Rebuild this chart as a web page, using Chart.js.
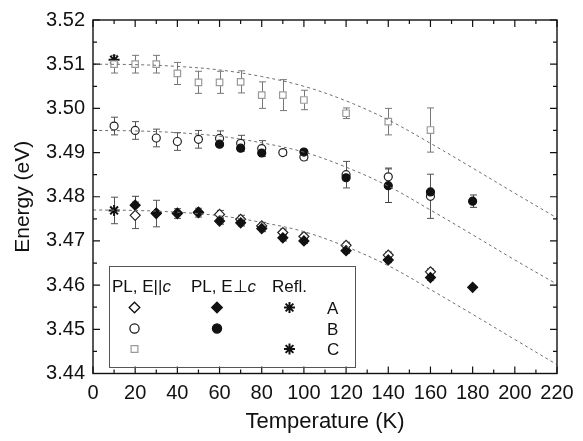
<!DOCTYPE html>
<html>
<head>
<meta charset="utf-8">
<script src="https://cdn.jsdelivr.net/npm/chart.js@4.4.1/dist/chart.umd.min.js"></script>
<style>
  html, body { margin: 0; padding: 0; background: #fff; }
  #wrap { width: 583px; height: 441px; }
</style>
</head>
<body>
<div id="wrap"><canvas id="graficoEnergia" width="583" height="441"></canvas></div>
<script>
// Dados: energia dos excitons A, B, C x temperatura
const tempAParalelo = [20, 30, 40, 50, 60, 70, 80, 90, 100, 120, 140, 160];
const energiaAParalelo = [3.4758, 3.4762, 3.4762, 3.4764, 3.4760, 3.4749, 3.4734, 3.4719, 3.4710, 3.4690, 3.4668, 3.4630];
const erroAParalelo = [0.003, 0.003, 0.0011, 0.001, 0.0009, 0.0009, 0.0008, 0.0008, 0.0008, 0.0007, 0.0007, 0.0007];

const tempAPerp = [20, 30, 40, 50, 60, 70, 80, 90, 100, 120, 140, 160, 180];
const energiaAPerp = [3.4781, 3.4763, 3.4763, 3.4765, 3.4745, 3.4741, 3.4728, 3.4707, 3.4700, 3.4678, 3.4657, 3.4617, 3.4595];
const erroAPerp = [0.002, 0, 0, 0, 0.0007, 0.0007, 0.0007, 0.0007, 0.0006, 0.0006, 0.0006, 0.0006, 0];

const tempBParalelo = [10, 20, 30, 40, 50, 60, 70, 80, 90, 100, 120, 140, 160];
const energiaBParalelo = [3.4960, 3.4950, 3.4933, 3.4925, 3.4930, 3.4932, 3.4921, 3.4909, 3.4900, 3.4890, 3.4850, 3.4845, 3.4801];
const erroBParalelo = [0.002, 0.002, 0.002, 0.002, 0.002, 0.0017, 0.0018, 0.0018, 0.0006, 0.0007, 0.003, 0.002, 0.005];

const tempBPerp = [60, 70, 80, 100, 120, 140, 160, 180];
const energiaBPerp = [3.4919, 3.4910, 3.4899, 3.4901, 3.4843, 3.4825, 3.4811, 3.4790];
const erroBPerp = [0, 0, 0, 0, 0, 0.0038, 0, 0.0014];

const tempCParalelo = [10, 20, 30, 40, 50, 60, 70, 80, 90, 100, 120, 140, 160];
const energiaCParalelo = [3.5100, 3.5100, 3.5100, 3.5079, 3.5059, 3.5059, 3.5060, 3.5030, 3.5030, 3.5019, 3.4989, 3.4970, 3.4951];
const erroCParalelo = [0.002, 0.002, 0.002, 0.0025, 0.0025, 0.0025, 0.0025, 0.003, 0.0035, 0.0022, 0.0012, 0.003, 0.005];

// reflectância (10 K): excitons A e C
const tempRefl = [10, 10];
const energiaRefl = [3.4769, 3.5110];
const erroRefl = [0.003, 0];

// curvas de ajuste (tracejadas)
const tempAjuste = [0, 20, 40, 60, 80, 100, 120, 140, 160, 180, 200, 220];
const ajusteC = [3.5100, 3.5099, 3.5095, 3.5087, 3.5072, 3.5050, 3.5017, 3.4974, 3.4921, 3.4865, 3.4808, 3.4752];
const ajusteB = [3.4950, 3.4949, 3.4945, 3.4937, 3.4922, 3.4901, 3.4867, 3.4824, 3.4770, 3.4714, 3.4657, 3.4602];
const ajusteA = [3.4770, 3.4769, 3.4765, 3.4757, 3.4742, 3.4721, 3.4687, 3.4644, 3.4590, 3.4534, 3.4477, 3.4420];

const FONTE = "'Liberation Sans', Arial, sans-serif";

function pares(xs, ys) {
    return xs.map((t, i) => ({ x: t, y: ys[i] }));
}

function curva(ys) {
    return {
        type: 'line', data: pares(tempAjuste, ys), borderColor: '#6f6f6f', borderWidth: 1,
        borderDash: [3, 3], pointRadius: 0, tension: 0.35, fill: false
    };
}

function serie(xs, ys, erros, estilo) {
    return Object.assign({ type: 'scatter', data: pares(xs, ys), erros: erros, pointBorderWidth: 1.2 }, estilo);
}

// 1. BARRAS DE ERRO (desenhadas antes dos marcadores)
const barrasErro = {
    id: 'barrasErro',
    beforeDatasetsDraw(chart) {
        const { ctx, scales: { x, y } } = chart;
        chart.data.datasets.forEach(ds => {
            if (!ds.erros) return;
            ctx.save();
            ctx.strokeStyle = ds.corErro || '#555';
            ctx.lineWidth = 1;
            ds.data.forEach((p, i) => {
                const e = ds.erros[i];
                if (!e) return;
                const px = Math.round(x.getPixelForValue(p.x)) + 0.5;
                const y1 = y.getPixelForValue(p.y + e);
                const y2 = y.getPixelForValue(p.y - e);
                ctx.beginPath();
                ctx.moveTo(px, y1); ctx.lineTo(px, y2);
                ctx.moveTo(px - 3.5, y1); ctx.lineTo(px + 3.5, y1);
                ctx.moveTo(px - 3.5, y2); ctx.lineTo(px + 3.5, y2);
                ctx.stroke();
            });
            ctx.restore();
        });
    }
};

// 2. MOLDURA COM TICKS PARA DENTRO NOS QUATRO LADOS
const moldura = {
    id: 'moldura',
    afterDraw(chart) {
        const { ctx, chartArea: a, scales: { x, y } } = chart;
        ctx.save();
        ctx.strokeStyle = '#111';
        ctx.lineWidth = 1.4;
        ctx.strokeRect(a.left, a.top, a.right - a.left, a.bottom - a.top);
        ctx.lineWidth = 1.2;
        ctx.beginPath();
        for (let t = 0; t <= 220; t += 10) {
            const px = x.getPixelForValue(t);
            const len = t % 20 === 0 ? 7 : 4;
            ctx.moveTo(px, a.bottom); ctx.lineTo(px, a.bottom - len);
            ctx.moveTo(px, a.top); ctx.lineTo(px, a.top + len);
        }
        for (let k = 0; k <= 16; k++) {
            const py = y.getPixelForValue(3.44 + k * 0.005);
            const len = k % 2 === 0 ? 7 : 4;
            ctx.moveTo(a.left, py); ctx.lineTo(a.left + len, py);
            ctx.moveTo(a.right, py); ctx.lineTo(a.right - len, py);
        }
        ctx.stroke();
        ctx.restore();
    }
};

// 3. LEGENDA EM GRADE (PL E||c / PL E⊥c / Refl.)
function marcador(ctx, estilo, raio, cx, cy, borda, preenchimento, largura) {
    ctx.save();
    ctx.strokeStyle = borda;
    ctx.fillStyle = preenchimento;
    ctx.lineWidth = largura;
    Chart.helpers.drawPoint(ctx, { pointStyle: estilo, radius: raio, rotation: 0, borderWidth: largura }, cx, cy);
    ctx.restore();
}

const legendaGrade = {
    id: 'legendaGrade',
    afterDraw(chart) {
        const ctx = chart.ctx;
        ctx.save();
        ctx.strokeStyle = '#555';
        ctx.lineWidth = 1;
        ctx.strokeRect(109.5, 266.5, 246, 101);

        ctx.fillStyle = '#111';
        ctx.textBaseline = 'alphabetic';
        const normal = `17px ${FONTE}`;
        const italico = `italic 17px ${FONTE}`;
        [['PL, E||', 112], ['PL, E\u22A5', 191]].forEach(([txt, x0]) => {
            ctx.font = normal;
            ctx.fillText(txt, x0, 292);
            const w = ctx.measureText(txt).width;
            ctx.font = italico;
            ctx.fillText('c', x0 + w, 292);
        });
        ctx.font = normal;
        ctx.fillText('Refl.', 272, 292);
        ctx.fillText('A', 327, 313.5);
        ctx.fillText('B', 327, 334.5);
        ctx.fillText('C', 327, 355);
        ctx.restore();

        marcador(ctx, 'rectRot', 5.3, 134.5, 307.5, '#111', '#fff', 1.3);
        marcador(ctx, 'rectRot', 5.3, 217, 307.5, '#111', '#111', 1.3);
        marcador(ctx, 'star', 5.5, 289.5, 307.5, '#111', '#111', 2);
        marcador(ctx, 'circle', 4.6, 134.5, 328.5, '#111', '#fff', 1.2);
        marcador(ctx, 'circle', 4.6, 217, 328.5, '#111', '#111', 1.2);
        marcador(ctx, 'rect', 4.8, 134.5, 349, '#999', '#fff', 1.2);
        marcador(ctx, 'star', 5.5, 289.5, 349, '#111', '#111', 2);
    }
};

const datasets = [
    curva(ajusteC),
    curva(ajusteB),
    curva(ajusteA),
    serie(tempCParalelo, energiaCParalelo, erroCParalelo, {
        pointStyle: 'rect', pointRadius: 4.6, pointBorderColor: '#9a9a9a', pointBackgroundColor: '#fff', corErro: '#777'
    }),
    serie(tempBPerp, energiaBPerp, erroBPerp, {
        pointStyle: 'circle', pointRadius: 4, pointBorderColor: '#111', pointBackgroundColor: '#111', corErro: '#444'
    }),
    serie(tempBParalelo, energiaBParalelo, erroBParalelo, {
        pointStyle: 'circle', pointRadius: 4, pointBorderColor: '#222', pointBackgroundColor: '#fff', corErro: '#555'
    }),
    serie(tempAPerp, energiaAPerp, erroAPerp, {
        pointStyle: 'rectRot', pointRadius: 5, pointBorderColor: '#111', pointBackgroundColor: '#111', corErro: '#444'
    }),
    serie(tempAParalelo, energiaAParalelo, erroAParalelo, {
        pointStyle: 'rectRot', pointRadius: 5, pointBorderColor: '#222', pointBackgroundColor: '#fff', corErro: '#555'
    }),
    serie(tempRefl, energiaRefl, erroRefl, {
        pointStyle: 'star', pointRadius: 5.5, pointBorderWidth: 2, pointBorderColor: '#111', pointBackgroundColor: '#111', corErro: '#555'
    })
];

new Chart(document.getElementById('graficoEnergia'), {
    data: { datasets: datasets },
    options: {
        responsive: false,
        animation: false,
        events: [],
        layout: { padding: { top: 17, right: 26, left: 0, bottom: 0 } },
        plugins: { legend: { display: false }, tooltip: { enabled: false } },
        scales: {
            x: {
                type: 'linear', min: 0, max: 220,
                grid: { display: false, drawTicks: false }, border: { display: false },
                ticks: { stepSize: 20, padding: 8, color: '#111', font: { family: FONTE, size: 20 } },
                title: { display: true, text: 'Temperature (K)', color: '#111', font: { family: FONTE, size: 22 }, padding: { top: 0, bottom: 6 } },
                afterFit(s) { s.height = 67.5; }
            },
            y: {
                type: 'linear', min: 3.44, max: 3.52,
                grid: { display: false, drawTicks: false }, border: { display: false },
                ticks: { stepSize: 0.01, padding: 8, color: '#111', font: { family: FONTE, size: 20 }, callback: v => v.toFixed(2) },
                title: { display: true, text: 'Energy (eV)', color: '#111', font: { family: FONTE, size: 21 }, padding: { top: 11, bottom: 0 } },
                afterFit(s) { s.width = 93; }
            }
        }
    },
    plugins: [barrasErro, moldura, legendaGrade]
});
</script>
</body>
</html>
